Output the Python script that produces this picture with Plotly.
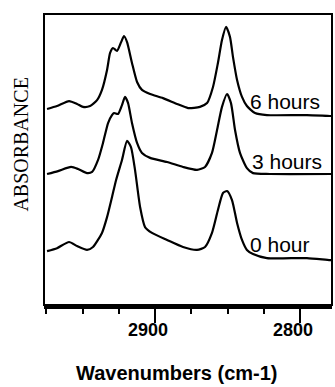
import plotly.graph_objects as go

# Wavenumbers (cm-1) and absorbance (arbitrary units)
wn_6h = [2974.5, 2967.6, 2959.3, 2953.8, 2949.7, 2944.8, 2940.0, 2936.6, 2933.1, 2931.0,
         2929.0, 2926.2, 2923.4, 2921.4, 2919.3, 2915.9, 2912.4, 2909.0, 2903.4, 2894.5,
         2884.8, 2877.2, 2869.0, 2864.1, 2860.0, 2856.6, 2853.8, 2851.0, 2848.3, 2846.2,
         2843.4, 2840.0, 2836.6, 2831.0, 2822.8, 2795.2, 2779.3, 2777.2]
abs_6h = [0.676, 0.686, 0.703, 0.693, 0.683, 0.686, 0.706, 0.741, 0.809, 0.867,
          0.884, 0.874, 0.904, 0.925, 0.904, 0.833, 0.768, 0.741, 0.727, 0.713,
          0.693, 0.679, 0.683, 0.696, 0.751, 0.833, 0.911, 0.956, 0.922, 0.853,
          0.775, 0.717, 0.686, 0.662, 0.655, 0.655, 0.652, 0.652]

wn_3h = [2974.5, 2966.9, 2957.9, 2953.1, 2946.9, 2943.4, 2939.3, 2935.9, 2932.4, 2929.7,
         2928.3, 2925.5, 2922.8, 2920.7, 2918.6, 2915.9, 2912.4, 2909.0, 2903.4, 2891.7,
         2880.7, 2871.0, 2865.5, 2860.7, 2857.2, 2853.8, 2850.3, 2847.6, 2844.8, 2841.4,
         2836.6, 2832.4, 2820.7, 2777.2]
abs_3h = [0.454, 0.464, 0.478, 0.471, 0.457, 0.461, 0.502, 0.560, 0.628, 0.655,
          0.662, 0.659, 0.689, 0.717, 0.696, 0.628, 0.560, 0.526, 0.509, 0.495,
          0.478, 0.468, 0.478, 0.526, 0.604, 0.683, 0.727, 0.696, 0.604, 0.526,
          0.474, 0.457, 0.454, 0.454]

wn_0h = [2974.5, 2967.6, 2959.3, 2953.8, 2946.9, 2942.8, 2936.6, 2933.1, 2929.7, 2926.9,
         2922.8, 2919.3, 2916.6, 2913.8, 2910.3, 2906.9, 2902.1, 2891.7, 2880.7, 2871.0,
         2865.5, 2860.7, 2856.6, 2853.1, 2850.3, 2846.9, 2843.4, 2840.0, 2836.6, 2832.4,
         2822.8, 2795.2, 2779.3, 2777.2]
abs_0h = [0.191, 0.201, 0.222, 0.208, 0.195, 0.205, 0.253, 0.307, 0.375, 0.433,
          0.502, 0.567, 0.546, 0.468, 0.341, 0.273, 0.253, 0.229, 0.205, 0.195,
          0.205, 0.253, 0.331, 0.389, 0.396, 0.365, 0.287, 0.229, 0.195, 0.181,
          0.167, 0.167, 0.160, 0.160]

series_labels = ["6 hours", "3 hours", "0 hour"]
label_wn = [2836.0, 2834.6, 2836.0]
label_abs = [0.703, 0.498, 0.213]

major_ticks = [2900, 2800]
tick_labels = ["<b>2900</b>", "<b>2800</b>"]

fig = go.Figure()
for wn, ab in [(wn_6h, abs_6h), (wn_3h, abs_3h), (wn_0h, abs_0h)]:
    fig.add_trace(go.Scatter(x=wn, y=ab, mode="lines",
                             line=dict(color="black", width=2.2, shape="spline", smoothing=0.6),
                             showlegend=False, hoverinfo="skip"))

for txt, xw, ya in zip(series_labels, label_wn, label_abs):
    fig.add_annotation(x=xw, y=ya, xref="x", yref="y", text=txt, showarrow=False,
                       xanchor="left", yanchor="middle",
                       font=dict(family="Liberation Sans, Arial", size=21, color="black"))

fig.add_annotation(x=-0.083, y=0.5515, xref="paper", yref="paper", text="ABSORBANCE",
                   textangle=-90, showarrow=False, xanchor="center", yanchor="middle",
                   font=dict(family="Liberation Serif, Times New Roman", size=20, color="black"))

fig.add_annotation(x=0.462, y=-0.234, xref="paper", yref="paper", text="<b>Wavenumbers (cm-1)</b>",
                   showarrow=False, xanchor="center", yanchor="middle",
                   font=dict(family="Liberation Sans, Arial", size=20, color="black"))

fig.add_shape(type="rect", xref="paper", yref="paper", x0=0, x1=1, y0=0, y1=1,
              line=dict(color="black", width=2), fillcolor="rgba(0,0,0,0)")

fig.update_xaxes(range=[2976.6, 2777.9], showgrid=False, zeroline=False,
                 showline=True, linecolor="black", linewidth=4,
                 tickmode="array", tickvals=major_ticks, ticktext=tick_labels,
                 ticks="outside", ticklen=14, tickwidth=2, tickcolor="black",
                 ticklabelshift=7, ticklabelstandoff=-9,
                 tickfont=dict(family="Liberation Sans, Arial", size=18, color="black"),
                 minor=dict(dtick=25, tick0=2900, ticks="outside", ticklen=5,
                            tickwidth=2, tickcolor="black", showgrid=False))
fig.update_yaxes(range=[0.007, 1.0], showgrid=False, zeroline=False, showline=False,
                 showticklabels=False, ticks="")

fig.update_layout(width=335, height=387, margin=dict(l=44, r=3, t=14, b=82),
                  plot_bgcolor="white", paper_bgcolor="white")

fig.write_html("out.html", config={"displayModeBar": False},
               post_script="document.body.style.margin='0px';")
